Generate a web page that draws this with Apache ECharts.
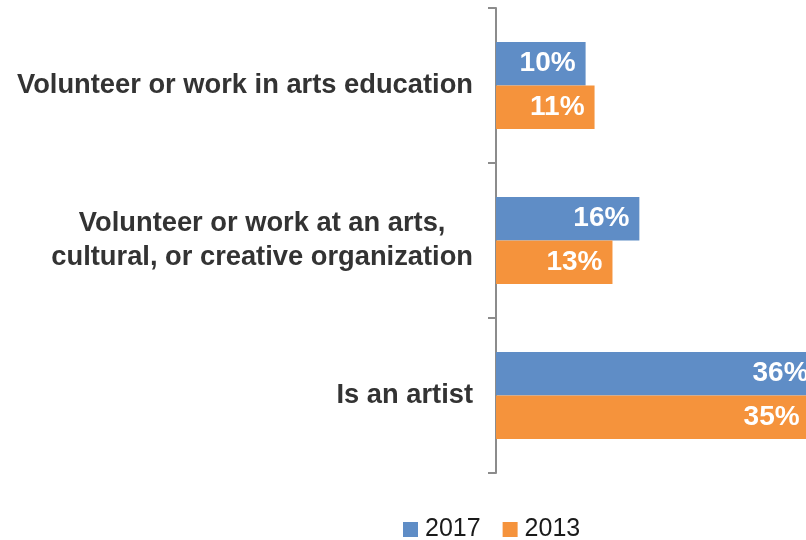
<!DOCTYPE html>
<html>
<head>
<meta charset="utf-8">
<script src="https://cdn.jsdelivr.net/npm/echarts@6/dist/echarts.min.js"></script>
<style>
  html, body { margin: 0; padding: 0; background: #ffffff; }
  #chart { width: 806px; height: 540px; }
</style>
</head>
<body>
<div id="chart"></div>
<script>
// Arts involvement by survey year (percent of respondents)
const categories = [
  'Volunteer or work in arts education',
  'Volunteer or work at an arts,\ncultural, or creative organization',
  'Is an artist'
];
const seriesNames = ['2017', '2013'];
const values2017 = [10, 16, 36];
const values2013 = [11, 13, 35];

const FONT = '"Liberation Sans", Arial, Helvetica, sans-serif';
const colors = ['#5f8dc6', '#f5933c'];
const CAT_FONT_SIZE = 27.3;

const chart = echarts.init(document.getElementById('chart'), null, { renderer: 'canvas' });

// Width of the widest line of a multi-line label, measured with the label font
function widestLine(text) {
  const ctx = document.createElement('canvas').getContext('2d');
  ctx.font = 'bold ' + CAT_FONT_SIZE + 'px ' + FONT;
  return Math.max.apply(null, text.split('\n').map(function (l) { return ctx.measureText(l).width; }));
}

// The two-line category is centred line by line, while the block stays flush against the axis
const yData = categories.map(function (c) {
  if (c.indexOf('\n') >= 0) {
    return { value: c, textStyle: { align: 'center', padding: [0, widestLine(c), 0, 0] } };
  }
  return c;
});

function barSeries(name, data, color) {
  return {
    name: name,
    type: 'bar',
    data: data,
    barWidth: 43.5,
    barGap: '0%',
    itemStyle: { color: color },
    label: {
      show: true,
      position: 'insideRight',
      distance: 10,
      formatter: '{c}%',
      color: '#ffffff',
      fontFamily: FONT,
      fontWeight: 'bold',
      fontSize: 28
    }
  };
}

chart.setOption({
  animation: false,
  backgroundColor: '#ffffff',
  textStyle: { fontFamily: FONT },
  // plot area runs past the right edge of the canvas, so the longest bars are cut off
  grid: {
    left: 496, width: 358.4, top: 8, bottom: 67,
    containLabel: false,
    outerBoundsMode: 'none'
  },
  legend: {
    data: seriesNames,
    left: 398,
    top: 512,
    itemWidth: 15,
    itemHeight: 15,
    itemGap: 22,
    icon: 'rect',
    textStyle: { fontFamily: FONT, fontSize: 25, color: '#1a1a1a', padding: [0, 0, 0, 2] }
  },
  xAxis: {
    type: 'value',
    min: 0,
    max: 40,
    show: false,
    splitLine: { show: false }
  },
  yAxis: {
    type: 'category',
    inverse: true,
    data: yData,
    axisLine: { show: true, lineStyle: { color: '#8c8c8c', width: 2 } },
    axisTick: { show: true, length: 8, lineStyle: { color: '#8c8c8c', width: 2 } },
    axisLabel: {
      margin: 23,
      fontFamily: FONT,
      fontWeight: 'bold',
      fontSize: CAT_FONT_SIZE,
      lineHeight: 34,
      color: '#333333'
    }
  },
  series: [
    barSeries(seriesNames[0], values2017, colors[0]),
    barSeries(seriesNames[1], values2013, colors[1])
  ]
});
</script>
</body>
</html>
